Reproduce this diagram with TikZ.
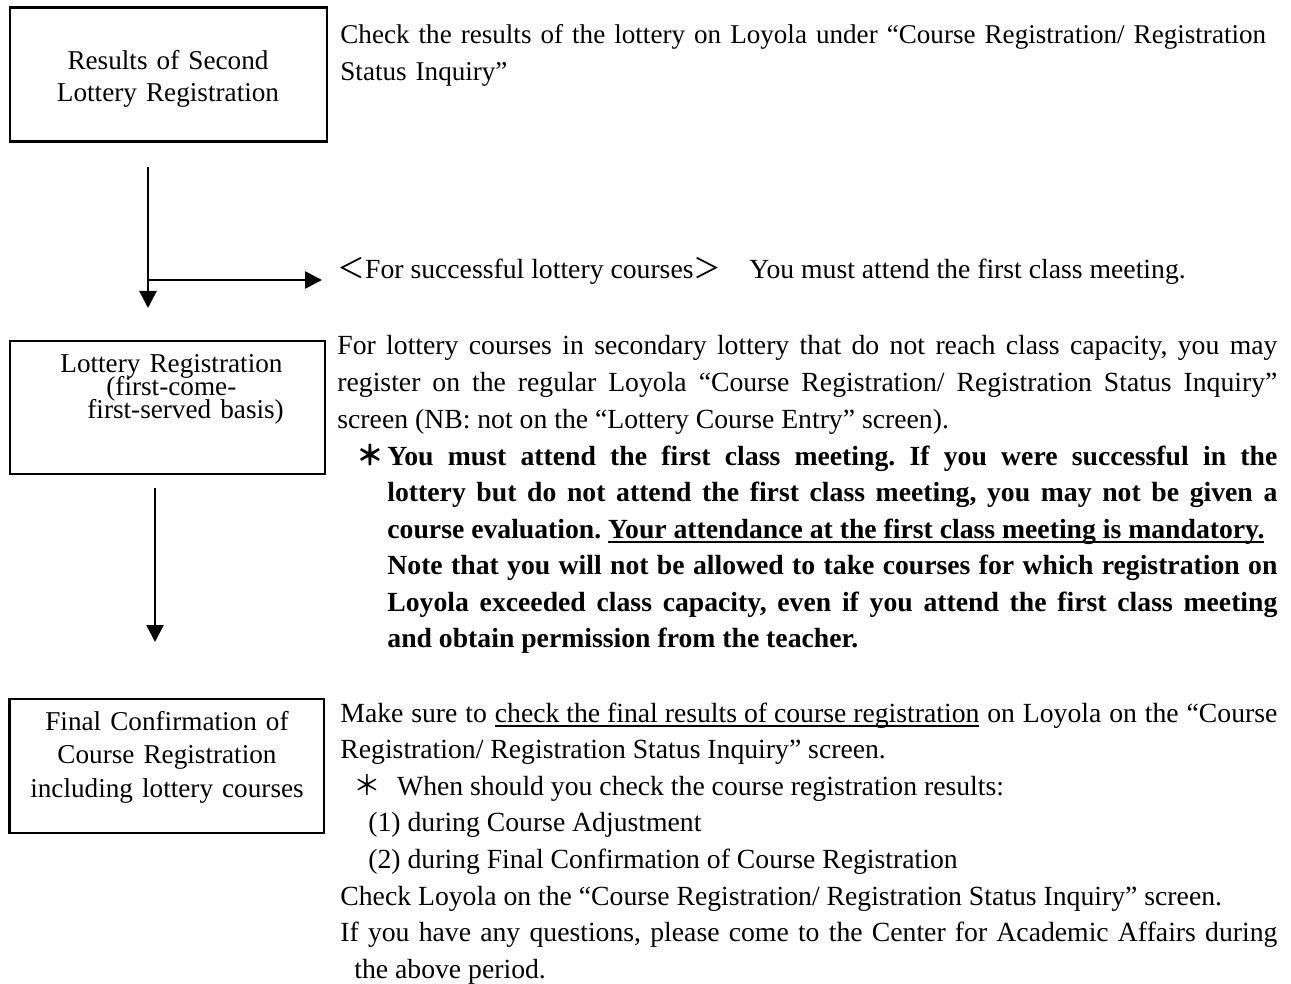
\documentclass[tikz,border=0pt]{standalone}
\usepackage{fontspec}
\setmainfont{Liberation Serif}
\newfontfamily\cjk{Noto Sans CJK JP}
\newsavebox{\ulbx}
\newcommand{\undl}[1]{\sbox{\ulbx}{#1}\rlap{\rule[-2.4pt]{\wd\ulbx}{0.8pt}}\usebox{\ulbx}}
\usetikzlibrary{arrows.meta}
\frenchspacing

\begin{document}
\begin{tikzpicture}[x=0.5pt,y=-0.5pt,>={Triangle[length=8.5pt,width=8.5pt]},
  box/.style={draw,line width=1.1pt,inner sep=0pt},
  boxtxt/.style={inner sep=0pt,anchor=base,text width=155pt,align=center,font=\fontsize{13.6pt}{15.8pt}\selectfont},
  txt/.style={inner sep=0pt,anchor=base west,font=\fontsize{13.85pt}{18.3pt}\selectfont},
  arr/.style={->,line width=1.3pt}]
\useasboundingbox (0,0) rectangle (1291,984);
\node[box,minimum width=158.5pt,minimum height=67pt] (resbox) at (168.5,74.5) {};
\node[boxtxt] (restxt) at (168,70) {Results of Second\\Lottery Registration};
\node[box,minimum width=157.5pt,minimum height=66.5pt] (lotbox) at (167.5,407.5) {};
\node[boxtxt,anchor=base west,align=left,font=\fontsize{13.6pt}{16pt}\selectfont] (lottxt) at (60,372)
  {Lottery Registration\\[-4.3pt]\hspace*{23pt}(first-come-\\[-4.3pt]\hspace*{13.5pt}first-served basis)};
\node[box,minimum width=157.3pt,minimum height=67pt] (finbox) at (166.7,766) {};
\node[boxtxt,font=\fontsize{13.6pt}{16.8pt}\selectfont] (fintxt) at (167,730) {Final Confirmation of\\Course Registration\\including lottery courses};

\node[txt,text width=475pt,align=left,font=\fontsize{13.55pt}{18.5pt}\selectfont] (check) at (340,44)
  {Check the results of the lottery on Loyola under “Course Registration/ Registration\\Status Inquiry”};
\node[txt] (succ) at (337,279)
  {{\cjk ＜}For successful lottery courses{\cjk ＞}\hspace{14pt}You must attend the first class meeting.};
\node[txt,text width=470pt,align=justify] (fcfs) at (337,355)
  {For lottery courses in secondary lottery that do not reach class capacity, you may\linebreak
   register on the regular Loyola “Course Registration/ Registration Status Inquiry”\linebreak
   screen (NB: not on the “Lottery Course Entry” screen).};
\node[txt,text width=445pt,align=justify] (must) at (387,465)
  {\bfseries\llap{{\cjk ＊}\hspace{1.5pt}}You must attend the first class meeting. If you were successful in the\linebreak
   lottery but do not attend the first class meeting, you may not be given a\linebreak
   course evaluation. \undl{Your attendance at the first class meeting is mandatory.}\newline
   Note that you will not be allowed to take courses for which registration on\linebreak
   Loyola exceeded class capacity, even if you attend the first class meeting\linebreak
   and obtain permission from the teacher.};
\node[txt,text width=468.5pt,align=justify] (final) at (340,722)
  {Make sure to \undl{check the final results of course registration} on Loyola on the “Course\linebreak
   Registration/ Registration Status Inquiry” screen.\par
   \hspace*{6.5pt}{\cjk ＊}\hspace{8pt}When should you check the course registration results:\par
   \hspace*{14pt}(1) during Course Adjustment\par
   \hspace*{14pt}(2) during Final Confirmation of Course Registration\par
   Check Loyola on the “Course Registration/ Registration Status Inquiry” screen.\par
   If you have any questions, please come to the Center for Academic Affairs during\linebreak
   \hspace*{7pt}the above period.};

\coordinate (a1top) at (148,167);
\coordinate (a1fork) at (148,280);
\coordinate (a1end) at (148,308);
\coordinate (a2top) at (155,488);
\coordinate (a2end) at (155,642);
\draw[arr] (a1top) -- (a1end);
\draw[arr,shorten >=7.5pt] (a1fork) -- (a1fork -| succ.west);
\draw[arr] (a2top) -- (a2end);
\end{tikzpicture}
\end{document}
